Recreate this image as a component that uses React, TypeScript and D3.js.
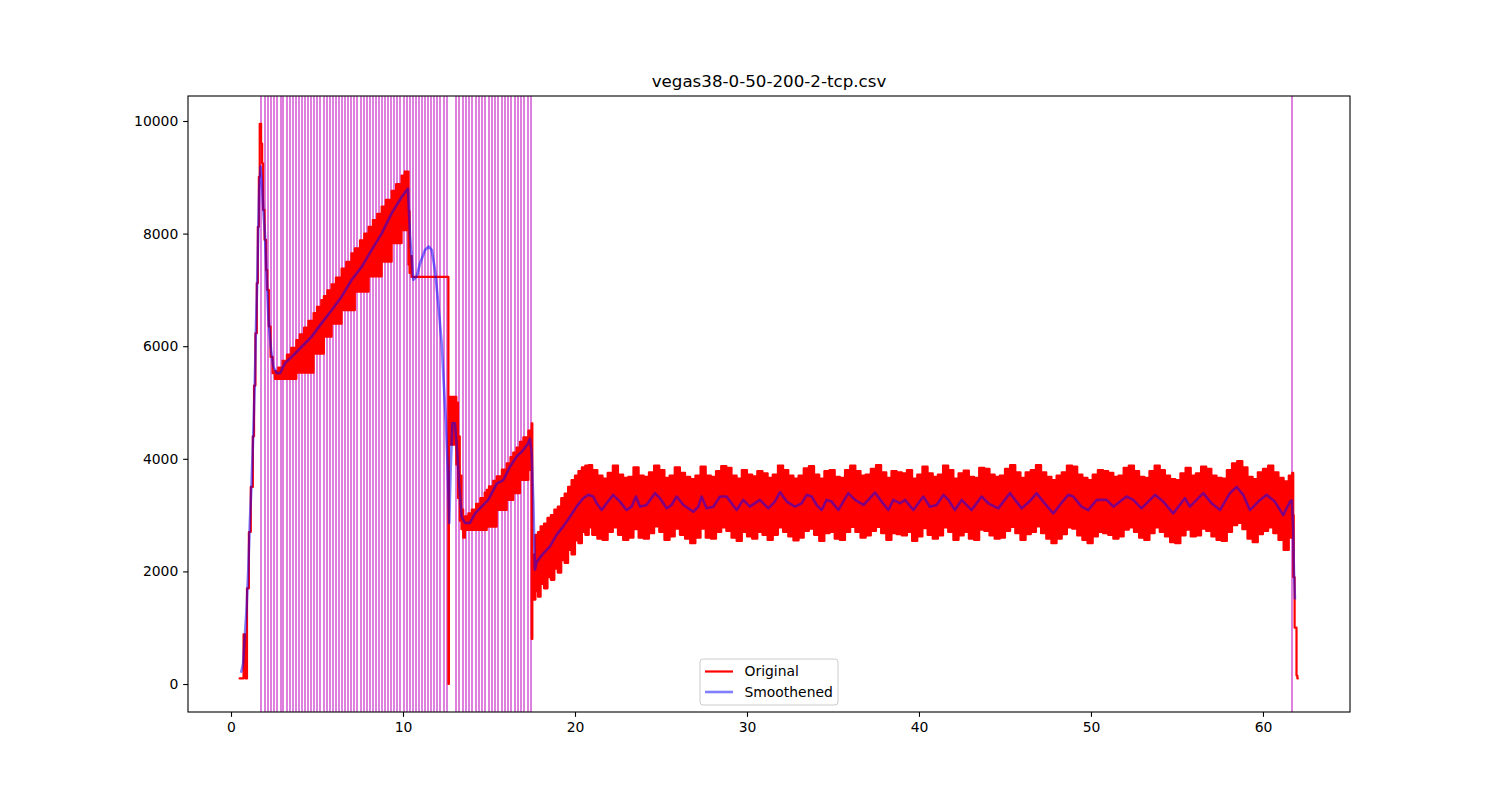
import React, { useRef, useEffect } from 'react';
import * as d3 from 'd3';

const TITLE = 'vegas38-0-50-200-2-tcp.csv';
const xTicks = [0, 10, 20, 30, 40, 50, 60];
const yTicks = [0, 2000, 4000, 6000, 8000, 10000];
const seriesNames = ['Original', 'Smoothened'];

// Original trace: [time, low, high] of the dense oscillation band (a plain line where low == high)
const originalBand: [number, number, number][] = [
  [0.50, 100, 100], [0.73, 880, 880], [0.85, 100, 100], [0.93, 1700, 1700], [1.04, 2700, 2700],
  [1.15, 3500, 3500], [1.27, 4400, 4400], [1.34, 5300, 5300], [1.42, 6230, 6230], [1.50, 7120, 7120],
  [1.56, 8120, 8120], [1.62, 9010, 9010], [1.67, 9950, 9950], [1.75, 9600, 9600], [1.81, 9250, 9250],
  [1.87, 8420, 8420], [1.95, 7890, 7890], [2.04, 7350, 7350], [2.11, 7000, 7000], [2.20, 6350, 6350],
  [2.30, 5810, 5810], [2.42, 5520, 5520],
  [2.55, 5420, 5560], [2.75, 5420, 5620], [3.0, 5420, 5740], [3.25, 5420, 5850], [3.5, 5420, 5970],
  [3.8, 5530, 6110], [4.0, 5530, 6210], [4.25, 5530, 6330], [4.5, 5530, 6450], [4.8, 5870, 6590],
  [5.0, 5870, 6700], [5.25, 5870, 6820], [5.4, 6170, 6890], [5.6, 6170, 6990], [5.85, 6400, 7100],
  [6.1, 6400, 7220], [6.43, 6640, 7380], [6.7, 6640, 7500], [7.0, 6640, 7650], [7.2, 6970, 7740],
  [7.5, 6970, 7880], [7.75, 6970, 8000], [8.0, 7240, 8120], [8.25, 7240, 8240], [8.5, 7240, 8350],
  [8.76, 7500, 8480], [9.0, 7500, 8600], [9.34, 7830, 8760], [9.6, 7830, 8880], [9.92, 8060, 9030],
  [10.1, 8060, 9100], [10.32, 7450, 8400], [10.38, 7300, 7600], [10.5, 7230, 7230],
  [12.64, 0, 0], [12.67, 4250, 5100], [13.1, 3900, 5000], [13.2, 3300, 4400], [13.3, 2900, 3700],
  [13.4, 2750, 3100], [13.5, 2600, 2950], [13.6, 2736, 2980], [13.8, 2736, 3030], [14.0, 2736, 3100],
  [14.25, 2736, 3200], [14.5, 2736, 3300], [14.75, 2736, 3400], [14.87, 2796, 3450], [15.0, 2796, 3510],
  [15.25, 2796, 3610], [15.45, 3092, 3690], [15.75, 3092, 3810], [16.03, 3269, 3920], [16.25, 3269, 4030],
  [16.41, 3388, 4110], [16.6, 3388, 4200], [16.8, 3624, 4300], [17.0, 3624, 4380], [17.29, 3802, 4500],
  [17.48, 800, 4630],
  [17.52, 1500, 2300], [17.7, 1650, 2650], [17.85, 1550, 2700], [18.0, 1780, 2800], [18.2, 1700, 2850],
  [18.4, 1900, 2950], [18.6, 1850, 3000], [18.8, 2050, 3100], [19.0, 1980, 3150], [19.2, 2200, 3300],
  [19.4, 2150, 3380], [19.6, 2380, 3500], [19.8, 2300, 3620], [20.0, 2550, 3700], [20.2, 2500, 3780],
  [20.4, 2700, 3850], [20.6, 2650, 3880], [20.8, 2780, 3890],
  [21.0, 2650, 3800], [21.3, 2580, 3700], [21.6, 2560, 3650], [21.9, 2700, 3750], [22.2, 2780, 3880],
  [22.5, 2650, 3720], [22.8, 2560, 3660], [23.1, 2600, 3680], [23.4, 2750, 3850], [23.7, 2600, 3700],
  [24.0, 2580, 3680], [24.3, 2680, 3760], [24.6, 2800, 3880], [24.9, 2700, 3800], [25.2, 2560, 3660],
  [25.5, 2620, 3700], [25.8, 2760, 3850], [26.1, 2650, 3750], [26.4, 2580, 3680], [26.7, 2500, 3640],
  [27.0, 2600, 3700], [27.3, 2760, 3860], [27.6, 2600, 3700], [27.9, 2580, 3680], [28.2, 2700, 3780],
  [28.5, 2780, 3870], [28.8, 2720, 3840], [29.1, 2600, 3700], [29.4, 2540, 3650], [29.7, 2700, 3800],
  [30.0, 2620, 3720], [30.3, 2580, 3690], [30.6, 2700, 3780], [30.9, 2650, 3740], [31.2, 2560, 3660],
  [31.5, 2650, 3720], [31.8, 2780, 3880], [32.1, 2700, 3800], [32.4, 2620, 3700], [32.7, 2550, 3650],
  [33.0, 2600, 3700], [33.3, 2720, 3830], [33.6, 2760, 3870], [33.9, 2650, 3720], [34.2, 2540, 3650],
  [34.5, 2680, 3780], [34.8, 2700, 3800], [35.1, 2580, 3680], [35.4, 2560, 3660], [35.7, 2700, 3800],
  [36.0, 2790, 3880], [36.3, 2700, 3780], [36.6, 2600, 3700], [36.9, 2640, 3720], [37.2, 2720, 3820],
  [37.5, 2790, 3890], [37.8, 2680, 3760], [38.1, 2560, 3660], [38.4, 2680, 3780], [38.7, 2660, 3760],
  [39.0, 2640, 3740], [39.3, 2700, 3800], [39.6, 2540, 3650], [39.9, 2620, 3720], [40.2, 2770, 3860],
  [40.5, 2650, 3740], [40.8, 2580, 3680], [41.1, 2640, 3720], [41.4, 2780, 3880], [41.7, 2700, 3800],
  [42.0, 2560, 3650], [42.3, 2640, 3740], [42.6, 2700, 3790], [42.9, 2580, 3680], [43.2, 2560, 3660],
  [43.5, 2740, 3840], [43.8, 2720, 3820], [44.1, 2640, 3720], [44.4, 2580, 3680], [44.7, 2600, 3700],
  [45.0, 2720, 3820], [45.3, 2790, 3890], [45.6, 2680, 3760], [45.9, 2560, 3660], [46.2, 2660, 3760],
  [46.5, 2700, 3800], [46.8, 2800, 3890], [47.1, 2680, 3760], [47.4, 2580, 3680], [47.7, 2500, 3620],
  [48.0, 2580, 3700], [48.3, 2660, 3760], [48.6, 2780, 3880], [48.9, 2760, 3860], [49.2, 2640, 3720],
  [49.5, 2560, 3660], [49.8, 2500, 3620], [50.1, 2620, 3720], [50.4, 2700, 3800], [50.7, 2680, 3780],
  [51.0, 2650, 3750], [51.3, 2580, 3680], [51.6, 2620, 3700], [51.9, 2740, 3840], [52.2, 2780, 3880],
  [52.5, 2700, 3780], [52.8, 2600, 3680], [53.1, 2560, 3660], [53.4, 2680, 3780], [53.7, 2780, 3880],
  [54.0, 2700, 3800], [54.3, 2620, 3700], [54.6, 2520, 3640], [54.9, 2500, 3620], [55.2, 2640, 3740],
  [55.5, 2740, 3840], [55.8, 2620, 3700], [56.1, 2640, 3740], [56.4, 2760, 3860], [56.7, 2720, 3820],
  [57.0, 2620, 3700], [57.3, 2560, 3660], [57.6, 2540, 3650], [57.9, 2700, 3800], [58.2, 2820, 3920],
  [58.5, 2860, 3960], [58.8, 2750, 3850], [59.1, 2580, 3680], [59.4, 2520, 3640], [59.7, 2660, 3760],
  [60.0, 2720, 3820], [60.3, 2780, 3880], [60.6, 2680, 3760], [60.9, 2560, 3660], [61.2, 2380, 3600],
  [61.5, 2600, 3700], [61.7, 2700, 3750],
  [61.76, 1900, 3000], [61.79, 1900, 1900], [61.84, 1000, 1000], [61.95, 150, 150], [62.0, 100, 100],
  [62.03, 100, 100],
];

// Smoothened trace: [time, value]
const smoothened: [number, number][] = [
  [0.58, 200], [0.70, 350], [0.78, 750], [0.90, 1300], [1.00, 2000], [1.10, 2900], [1.20, 3600],
  [1.30, 4500], [1.38, 5300], [1.45, 6300], [1.52, 7100], [1.58, 8000], [1.64, 8800], [1.72, 9190],
  [1.80, 8900], [1.88, 8420], [1.98, 7950], [2.07, 7240], [2.17, 6530], [2.33, 5930], [2.46, 5640],
  [2.66, 5520], [2.85, 5520], [3.14, 5700], [3.53, 5810], [4.11, 5990], [4.69, 6170], [5.27, 6410],
  [5.85, 6640], [6.43, 6880], [7.02, 7180], [7.60, 7410], [8.18, 7710], [8.76, 8000], [9.34, 8360],
  [9.92, 8650], [10.29, 8800], [10.41, 7950], [10.60, 7180], [10.80, 7240], [10.99, 7470],
  [11.28, 7710], [11.50, 7770], [11.67, 7710], [11.86, 7350], [12.05, 6760], [12.25, 6050],
  [12.38, 5280], [12.50, 4630], [12.60, 3800], [12.69, 2860], [12.77, 3800], [12.87, 4630],
  [13.02, 4630], [13.16, 4100], [13.27, 3510], [13.41, 2970], [13.60, 2860], [13.89, 2860],
  [14.19, 3030], [14.57, 3150], [14.96, 3270], [15.45, 3560], [15.83, 3620], [16.22, 3860],
  [16.61, 4040], [17.00, 4160], [17.29, 4280], [17.38, 4360], [17.48, 4100], [17.58, 3210],
  [17.67, 2030], [17.77, 2170], [18.16, 2320], [18.54, 2440], [18.93, 2650], [19.32, 2800],
  [19.71, 2970], [20.09, 3150], [20.48, 3300], [20.77, 3360], [21.06, 3330], [21.26, 3210],
  [21.55, 3090], [21.84, 3210], [22.22, 3360], [22.61, 3240], [23.00, 3090], [23.29, 3150],
  [23.54, 3330], [23.78, 3150], [24.16, 3180], [24.65, 3390], [24.94, 3300], [25.33, 3120],
  [25.62, 3180], [25.91, 3330], [26.30, 3180], [26.88, 3060], [27.17, 3150], [27.36, 3330],
  [27.65, 3120], [28.04, 3150], [28.43, 3330], [28.81, 3330], [29.40, 3090], [29.78, 3270],
  [30.17, 3150], [30.75, 3270], [31.24, 3120], [31.62, 3240], [31.92, 3410], [32.31, 3240],
  [32.79, 3150], [33.18, 3210], [33.47, 3360], [33.76, 3330], [34.05, 3180], [34.34, 3090],
  [34.63, 3270], [34.92, 3240], [35.31, 3090], [35.60, 3240], [35.89, 3390], [36.28, 3270],
  [36.77, 3180], [37.06, 3270], [37.44, 3400], [37.83, 3240], [38.22, 3090], [38.51, 3270],
  [38.90, 3210], [39.19, 3270], [39.67, 3090], [40.25, 3330], [40.64, 3150], [41.03, 3180],
  [41.42, 3360], [41.71, 3270], [42.09, 3090], [42.48, 3270], [43.06, 3090], [43.64, 3330],
  [44.03, 3210], [44.61, 3120], [45.29, 3390], [45.97, 3120], [46.45, 3250], [46.84, 3390],
  [47.22, 3240], [47.81, 3030], [48.19, 3180], [48.68, 3360], [48.97, 3330], [49.45, 3150],
  [49.84, 3090], [50.33, 3270], [50.91, 3270], [51.30, 3150], [52.07, 3330], [52.46, 3270],
  [52.94, 3120], [53.72, 3360], [54.20, 3240], [54.78, 3030], [55.46, 3300], [55.75, 3150],
  [56.53, 3390], [57.01, 3210], [57.50, 3090], [58.08, 3390], [58.47, 3500], [58.85, 3360],
  [59.24, 3090], [59.73, 3240], [60.21, 3360], [60.69, 3240], [61.18, 3000], [61.57, 3240],
  [61.68, 3260], [61.75, 2800], [61.80, 2000], [61.86, 1500],
];

// vertical marker lines (time)
const markerTimes = [
  1.73,
  1.98, 2.16, 2.34, 2.52, 2.70, 2.88, 3.05, 3.23, 3.41, 3.59, 3.77, 3.95, 4.13, 4.31, 4.49,
  4.66, 4.84, 5.02, 5.20, 5.38, 5.56, 5.74, 5.92, 6.10, 6.27, 6.45, 6.63, 6.81, 6.99, 7.17,
  7.35, 7.53, 7.71, 7.88, 8.06, 8.24, 8.42, 8.60, 8.78, 8.96, 9.14, 9.32, 9.49, 9.67, 9.85,
  10.03, 10.21, 10.39, 10.57, 10.75, 10.93, 11.10, 11.28, 11.46, 11.64, 11.82, 12.00, 12.18,
  12.36, 12.54,
  13.08, 13.27, 13.46, 13.65, 13.84, 14.03, 14.22, 14.41, 14.60, 14.79, 14.98, 15.16, 15.35,
  15.54, 15.73, 15.92, 16.11, 16.30, 16.49, 16.68, 16.87, 17.06, 17.25, 17.44,
  61.66,
];

const FONT = '"DejaVu Sans", sans-serif';

const App: React.FC = () => {
  const svgRef = useRef<SVGSVGElement>(null);

  useEffect(() => {
    const width = 1500;
    const height = 800;
    const margin = { top: 96, right: 150, bottom: 88, left: 188 };
    const plotW = width - margin.left - margin.right;
    const plotH = height - margin.top - margin.bottom;

    const root = d3.select(svgRef.current);
    root.selectAll('*').remove();

    const xScale = d3.scaleLinear().domain([-2.5, 65.06]).range([0, plotW]);
    const yScale = d3.scaleLinear().domain([-497, 10444]).range([plotH, 0]);

    const svg = root.append('g').attr('transform', `translate(${margin.left},${margin.top})`);

    root.append('defs')
      .append('clipPath')
      .attr('id', 'plot-clip')
      .append('rect')
      .attr('width', plotW)
      .attr('height', plotH);

    const plot = svg.append('g').attr('clip-path', 'url(#plot-clip)');

    // vertical markers (magenta at half alpha, flattened so they stay crisp)
    plot.selectAll('line.marker')
      .data(markerTimes)
      .join('line')
      .attr('class', 'marker')
      .attr('x1', d => Math.round(xScale(d)))
      .attr('x2', d => Math.round(xScale(d)))
      .attr('y1', 0)
      .attr('y2', plotH)
      .attr('stroke', '#df80df')
      .attr('stroke-width', 2)
      .attr('shape-rendering', 'crispEdges');

    // original: dense band
    const band = d3.area<[number, number, number]>()
      .x(d => xScale(d[0]))
      .y0(d => yScale(d[1]))
      .y1(d => yScale(d[2]))
      .curve(d3.curveStepAfter);

    plot.append('path')
      .datum(originalBand)
      .attr('fill', '#ff0000')
      .attr('stroke', '#ff0000')
      .attr('stroke-width', 2.2)
      .attr('stroke-linejoin', 'round')
      .attr('d', band);

    // smoothened
    const line = d3.line<[number, number]>()
      .x(d => xScale(d[0]))
      .y(d => yScale(d[1]));

    plot.append('path')
      .datum(smoothened)
      .attr('fill', 'none')
      .attr('stroke', '#0000ff')
      .attr('stroke-opacity', 0.5)
      .attr('stroke-width', 2.6)
      .attr('stroke-linejoin', 'round')
      .attr('d', line);

    // axes
    const xAxis = svg.append('g')
      .attr('transform', `translate(0,${plotH})`)
      .call(d3.axisBottom(xScale).tickValues(xTicks).tickSize(4.86).tickPadding(4.86).tickFormat(d3.format('d')));
    const yAxis = svg.append('g')
      .call(d3.axisLeft(yScale).tickValues(yTicks).tickSize(4.86).tickPadding(4.86).tickFormat(d3.format('d')));

    [xAxis, yAxis].forEach(ax => {
      ax.select('.domain').remove();
      ax.attr('font-family', FONT).attr('font-size', 13.9);
      ax.selectAll('line').attr('stroke', 'black').attr('stroke-width', 1.1);
      ax.selectAll('text').attr('fill', 'black');
    });

    // frame
    svg.append('rect')
      .attr('width', plotW)
      .attr('height', plotH)
      .attr('fill', 'none')
      .attr('stroke', 'black')
      .attr('stroke-width', 1.1);

    // title
    svg.append('text')
      .attr('x', plotW / 2)
      .attr('y', -9)
      .attr('text-anchor', 'middle')
      .attr('font-family', FONT)
      .attr('font-size', 16.7)
      .text(TITLE);

    // legend
    const legend = svg.append('g').attr('transform', `translate(${700 - margin.left},${659 - margin.top})`);
    legend.append('rect')
      .attr('width', 138)
      .attr('height', 46)
      .attr('rx', 3)
      .attr('fill', 'white')
      .attr('fill-opacity', 0.8)
      .attr('stroke', '#cccccc')
      .attr('stroke-width', 1);

    const legendColors = ['#ff0000', 'rgba(0,0,255,0.5)'];
    legend.selectAll('line.key')
      .data(seriesNames)
      .join('line')
      .attr('class', 'key')
      .attr('x1', 5)
      .attr('x2', 33)
      .attr('y1', (d, i) => 12.5 + i * 20.5)
      .attr('y2', (d, i) => 12.5 + i * 20.5)
      .attr('stroke', (d, i) => legendColors[i])
      .attr('stroke-width', (d, i) => (i === 0 ? 2.2 : 2.6));

    legend.selectAll('text')
      .data(seriesNames)
      .join('text')
      .attr('x', 44.5)
      .attr('y', (d, i) => 12.5 + i * 20.5)
      .attr('dy', '0.35em')
      .attr('font-family', FONT)
      .attr('font-size', 13.9)
      .text(d => d);
  }, []);

  return (
    <svg
      ref={svgRef}
      width={1500}
      height={800}
      style={{ position: 'absolute', left: 0, top: 0, background: 'white' }}
    />
  );
};

export default App;
